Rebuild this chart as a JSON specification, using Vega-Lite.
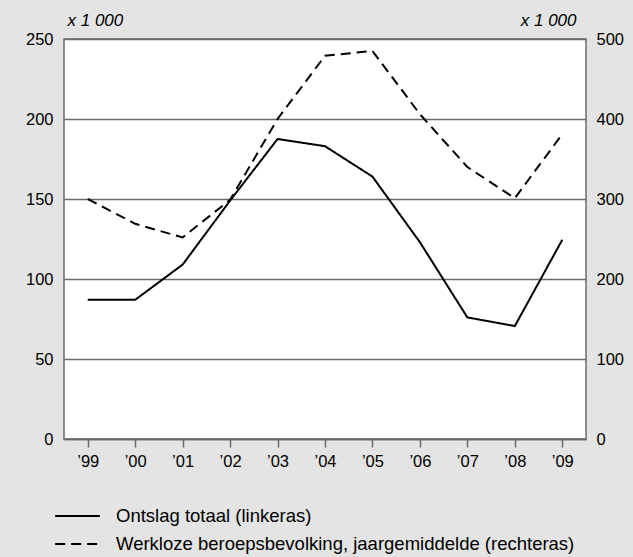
{
  "$schema": "https://vega.github.io/schema/vega-lite/v6.json",
  "width": 522,
  "height": 400,
  "autosize": {"type": "none"},
  "padding": {"left": 64, "top": 39, "right": 47, "bottom": 118},
  "background": "#e3e4e3",
  "config": {
    "font": "Liberation Sans",
    "view": {"fill": "white", "stroke": "#6a6a6a", "strokeWidth": 1.5}
  },
  "data": {
    "values": [
      {"jaar": "’99", "ontslag": 87, "werkloos": 300},
      {"jaar": "’00", "ontslag": 87, "werkloos": 269},
      {"jaar": "’01", "ontslag": 109, "werkloos": 252},
      {"jaar": "’02", "ontslag": 149, "werkloos": 299},
      {"jaar": "’03", "ontslag": 187.5, "werkloos": 400},
      {"jaar": "’04", "ontslag": 183, "werkloos": 479},
      {"jaar": "’05", "ontslag": 164, "werkloos": 485},
      {"jaar": "’06", "ontslag": 123, "werkloos": 406},
      {"jaar": "’07", "ontslag": 76, "werkloos": 340},
      {"jaar": "’08", "ontslag": 70.6, "werkloos": 301},
      {"jaar": "’09", "ontslag": 124.5, "werkloos": 381}
    ]
  },
  "encoding": {
    "x": {
      "field": "jaar",
      "type": "ordinal",
      "sort": null,
      "scale": {"type": "point", "padding": 0.5},
      "axis": {
        "title": null,
        "labelAngle": 0,
        "labelFontSize": 16.5,
        "labelColor": "black",
        "labelPadding": 6,
        "domainColor": "#6a6a6a",
        "domainWidth": 1.5,
        "tickColor": "#6a6a6a",
        "tickWidth": 1.5,
        "tickSize": 8
      }
    }
  },
  "layer": [
    {
      "mark": {"type": "line", "color": "black", "strokeWidth": 2},
      "encoding": {
        "y": {
          "field": "ontslag",
          "type": "quantitative",
          "scale": {"domain": [0, 250], "nice": false},
          "axis": {
            "values": [0, 50, 100, 150, 200, 250],
            "grid": true,
            "gridColor": "#6a6a6a",
            "gridWidth": 1.5,
            "gridOpacity": 1,
            "ticks": false,
            "domain": false,
            "labelPadding": 11,
            "labelFontSize": 16.5,
            "labelColor": "black",
            "title": "x 1 000",
            "titleFontStyle": "italic",
            "titleFontWeight": "normal",
            "titleFontSize": 17,
            "titleColor": "black",
            "titleAngle": 0,
            "titleX": 3,
            "titleY": -14,
            "titleAlign": "left",
            "titleBaseline": "alphabetic"
          }
        },
        "strokeDash": {
          "datum": "Ontslag totaal (linkeras)",
          "type": "nominal",
          "scale": {
            "domain": ["Ontslag totaal (linkeras)", "Werkloze beroepsbevolking, jaargemiddelde (rechteras)"],
            "range": [[1, 0], [10, 6]]
          },
          "legend": {
            "orient": "none",
            "legendX": -10,
            "legendY": 464,
            "direction": "vertical",
            "title": null,
            "symbolType": "stroke",
            "symbolSize": 2000,
            "symbolStrokeWidth": 2,
            "symbolStrokeColor": "black",
            "labelFontSize": 18.5,
            "labelColor": "black",
            "labelOffset": 15,
            "labelLimit": 600,
            "clipHeight": 26,
            "rowPadding": 2
          }
        }
      }
    },
    {
      "mark": {"type": "line", "color": "black", "strokeWidth": 2},
      "encoding": {
        "y": {
          "field": "werkloos",
          "type": "quantitative",
          "scale": {"domain": [0, 500], "nice": false},
          "axis": {
            "orient": "right",
            "values": [0, 100, 200, 300, 400, 500],
            "grid": false,
            "ticks": false,
            "domain": false,
            "labelPadding": 10,
            "labelFontSize": 16.5,
            "labelColor": "black",
            "title": "x 1 000",
            "titleFontStyle": "italic",
            "titleFontWeight": "normal",
            "titleFontSize": 17,
            "titleColor": "black",
            "titleAngle": 0,
            "titleX": -10,
            "titleY": -14,
            "titleAlign": "right",
            "titleBaseline": "alphabetic"
          }
        },
        "strokeDash": {
          "datum": "Werkloze beroepsbevolking, jaargemiddelde (rechteras)",
          "type": "nominal"
        }
      }
    }
  ],
  "resolve": {"scale": {"y": "independent"}}
}
